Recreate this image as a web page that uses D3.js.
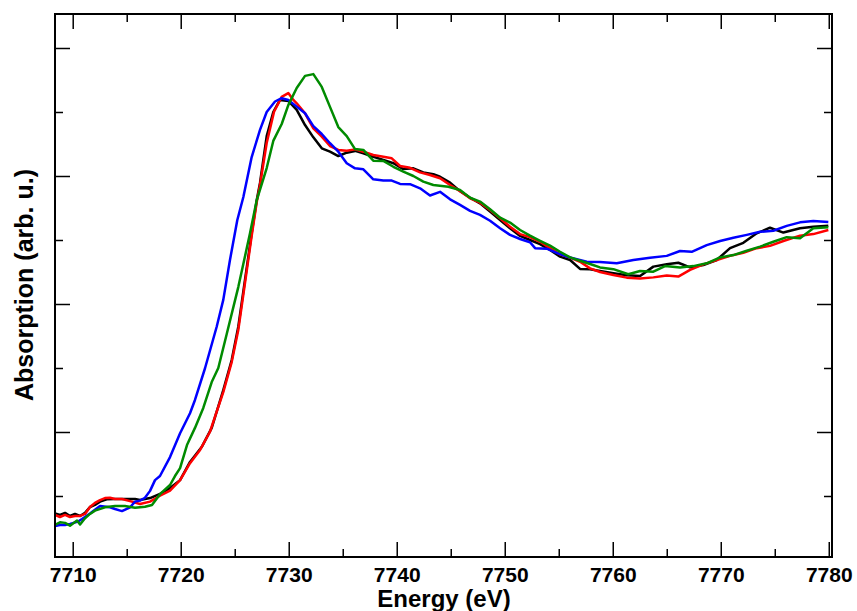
<!DOCTYPE html>
<html>
<head>
<meta charset="utf-8">
<script src="https://cdn.jsdelivr.net/npm/d3@7"></script>
<style>
  html, body { margin: 0; padding: 0; background: #fff; }
  svg { display: block; }
  text { font-family: "Liberation Sans", Arial, Helvetica, sans-serif; font-weight: bold; }
</style>
</head>
<body>
<svg id="chart" width="857" height="611"></svg>
<script>
// ---- Data ----
const xMajorTicks = [7710, 7720, 7730, 7740, 7750, 7760, 7770, 7780];
const xMinorTicks = [7715, 7725, 7735, 7745, 7755, 7765, 7775];
const yMajorTicks = [0, 0.5, 1.0, 1.5];
const yMinorTicks = [-0.25, 0.25, 0.75, 1.25];

const blackE = [7708.36,7708.82,7709.29,7709.75,7710.21,7710.68,7711.14,7711.60,7712.06,7712.53,7713.15,7713.92,7714.84,7715.77,7716.23,7717.16,7718.08,7719.01,7719.94,7720.86,7721.94,7722.87,7723.94,7724.72,7725.33,7725.95,7726.57,7727.04,7727.34,7727.96,7728.57,7729.19,7729.96,7730.74,7731.51,7732.28,7733.06,7733.82,7734.59,7735.37,7736.14,7736.91,7737.83,7738.76,7739.69,7740.61,7741.54,7742.46,7743.39,7744.01,7744.94,7745.86,7746.79,7747.71,7748.64,7749.57,7750.49,7751.42,7752.34,7753.27,7754.19,7755.12,7756.05,7756.97,7757.90,7758.82,7760.06,7761.30,7762.53,7763.76,7765.00,7766.07,7767.16,7768.39,7769.63,7770.86,7772.09,7773.33,7774.56,7775.80,7777.34,7778.57,7779.96];
const blackMu = [-0.318,-0.324,-0.316,-0.328,-0.320,-0.328,-0.316,-0.293,-0.285,-0.272,-0.263,-0.262,-0.262,-0.262,-0.266,-0.258,-0.242,-0.219,-0.188,-0.117,-0.059,0.016,0.164,0.281,0.411,0.594,0.776,0.906,0.973,1.156,1.250,1.297,1.293,1.258,1.199,1.151,1.108,1.095,1.078,1.091,1.098,1.089,1.075,1.063,1.050,1.027,1.030,1.014,1.007,0.997,0.974,0.941,0.915,0.893,0.861,0.828,0.796,0.766,0.750,0.734,0.711,0.685,0.672,0.637,0.636,0.629,0.620,0.612,0.609,0.646,0.655,0.661,0.643,0.652,0.672,0.718,0.739,0.776,0.798,0.779,0.796,0.802,0.806];

const redE = [7708.36,7708.82,7709.29,7709.75,7710.21,7710.68,7711.14,7711.60,7712.06,7712.53,7712.99,7713.45,7713.92,7714.56,7715.31,7716.23,7717.16,7718.08,7719.01,7719.94,7720.86,7721.79,7722.71,7723.94,7724.72,7725.33,7725.95,7726.57,7727.04,7727.34,7727.96,7728.64,7729.35,7729.96,7730.43,7730.74,7731.51,7732.28,7733.06,7733.82,7734.59,7735.37,7736.14,7736.91,7737.83,7738.76,7739.54,7740.31,7741.23,7742.16,7743.08,7744.01,7744.94,7745.86,7746.79,7747.71,7748.64,7749.57,7750.49,7751.42,7752.34,7753.27,7754.19,7755.12,7756.05,7756.97,7757.90,7758.82,7760.06,7761.30,7762.53,7763.76,7765.00,7766.07,7767.16,7768.39,7769.63,7770.86,7772.09,7773.33,7774.56,7775.80,7777.34,7778.57,7779.96];
const redMu = [-0.324,-0.332,-0.324,-0.332,-0.328,-0.328,-0.320,-0.293,-0.277,-0.266,-0.258,-0.257,-0.262,-0.262,-0.270,-0.281,-0.272,-0.249,-0.229,-0.188,-0.122,-0.070,0.001,0.156,0.273,0.398,0.582,0.766,0.898,0.965,1.129,1.251,1.309,1.324,1.297,1.284,1.245,1.186,1.154,1.117,1.102,1.099,1.104,1.095,1.082,1.075,1.069,1.039,1.032,1.014,1.004,0.991,0.965,0.941,0.913,0.896,0.867,0.835,0.802,0.773,0.761,0.743,0.718,0.694,0.681,0.665,0.639,0.625,0.613,0.603,0.600,0.604,0.611,0.607,0.633,0.655,0.672,0.688,0.700,0.718,0.727,0.746,0.767,0.773,0.789];

const greenE = [7708.36,7708.82,7709.29,7709.75,7710.40,7710.68,7711.14,7711.60,7712.06,7712.99,7713.92,7714.84,7715.77,7716.69,7717.34,7718.08,7719.01,7719.47,7719.94,7720.58,7721.32,7722.09,7722.87,7723.48,7724.26,7725.33,7726.42,7727.04,7727.96,7728.57,7729.35,7729.96,7730.74,7731.51,7732.28,7733.06,7733.82,7734.59,7735.37,7736.14,7736.91,7737.83,7738.76,7739.69,7740.61,7741.54,7742.46,7743.39,7744.78,7745.86,7746.79,7747.71,7748.64,7749.57,7750.49,7751.42,7752.34,7753.27,7754.19,7755.12,7756.05,7756.97,7757.90,7758.82,7760.06,7761.44,7762.53,7763.76,7764.84,7766.23,7767.46,7768.70,7769.94,7771.17,7772.41,7773.64,7774.87,7776.11,7777.34,7778.57,7779.96];
const greenMu = [-0.363,-0.353,-0.355,-0.366,-0.346,-0.361,-0.337,-0.320,-0.307,-0.294,-0.289,-0.289,-0.296,-0.292,-0.285,-0.243,-0.207,-0.172,-0.141,-0.051,0.016,0.094,0.195,0.250,0.383,0.566,0.777,0.906,1.031,1.137,1.203,1.277,1.344,1.391,1.398,1.348,1.270,1.191,1.156,1.105,1.102,1.060,1.059,1.036,1.017,1.000,0.978,0.965,0.958,0.945,0.915,0.900,0.870,0.837,0.818,0.789,0.767,0.747,0.728,0.704,0.682,0.669,0.656,0.643,0.636,0.616,0.629,0.626,0.648,0.643,0.648,0.659,0.682,0.691,0.708,0.724,0.743,0.761,0.757,0.796,0.800];

const blueE = [7708.36,7708.82,7709.29,7709.75,7710.49,7710.86,7711.60,7712.53,7713.45,7713.92,7714.56,7715.31,7715.77,7716.23,7716.69,7717.16,7717.62,7718.08,7719.01,7719.94,7720.86,7721.32,7722.25,7723.33,7723.94,7724.56,7725.24,7725.80,7726.57,7727.34,7727.96,7728.73,7729.35,7729.96,7730.74,7731.51,7732.28,7733.06,7733.82,7734.59,7735.37,7736.14,7736.91,7737.83,7738.76,7739.54,7740.31,7741.23,7742.16,7743.08,7744.01,7744.94,7745.86,7746.79,7747.71,7748.64,7749.57,7750.49,7751.42,7752.34,7752.81,7753.89,7754.81,7755.74,7756.67,7757.59,7758.82,7760.37,7761.91,7763.45,7765.00,7766.23,7767.31,7768.70,7769.94,7771.17,7772.41,7773.64,7774.87,7776.11,7777.34,7778.57,7779.96];
const blueMu = [-0.367,-0.363,-0.363,-0.359,-0.350,-0.340,-0.318,-0.289,-0.294,-0.301,-0.309,-0.294,-0.272,-0.268,-0.257,-0.230,-0.188,-0.172,-0.098,-0.005,0.073,0.125,0.249,0.411,0.516,0.672,0.828,0.918,1.074,1.180,1.250,1.291,1.304,1.297,1.271,1.245,1.195,1.164,1.128,1.095,1.050,1.030,1.026,0.987,0.982,0.982,0.969,0.968,0.952,0.924,0.938,0.909,0.887,0.864,0.848,0.825,0.796,0.770,0.754,0.741,0.718,0.716,0.700,0.685,0.675,0.665,0.664,0.659,0.672,0.681,0.688,0.707,0.704,0.730,0.746,0.759,0.770,0.782,0.786,0.805,0.819,0.824,0.820];

const seriesNames = ["black", "red", "blue", "green"];
const seriesColors = ["#000000", "#ff0000", "#0000ff", "#008b00"];
const seriesE = [blackE, redE, blueE, greenE];
const seriesMu = [blackMu, redMu, blueMu, greenMu];

// ---- Layout ----
const L = 55, R = 832, T = 14, B = 557;
const svg = d3.select("#chart");

const x = d3.scaleLinear().domain([7708.36, 7780.3]).range([L, R]);
const y = d3.scaleLinear().domain([-0.4883, 1.6328]).range([B, T]);

svg.append("defs").append("clipPath").attr("id", "plotclip")
  .append("rect").attr("x", L).attr("y", T).attr("width", R - L).attr("height", B - T);

// curves
const line = d3.line().x(d => x(d[0])).y(d => y(d[1]));
const gLines = svg.append("g").attr("clip-path", "url(#plotclip)");
seriesNames.forEach((name, i) => {
  const pts = seriesE[i].map((e, k) => [e, seriesMu[i][k]]);
  gLines.append("path")
    .attr("d", line(pts))
    .attr("fill", "none")
    .attr("stroke", seriesColors[i])
    .attr("stroke-width", 2.5)
    .attr("stroke-linejoin", "round");
});

// axes (ticks inward on all four sides)
function styleAxis(g) {
  g.select(".domain").remove();
  g.selectAll(".tick line").attr("stroke", "#000").attr("stroke-width", 1.5);
}
const tickFont = g => g.selectAll("text")
  .attr("font-size", 21).attr("font-weight", "bold")
  .attr("font-family", '"Liberation Sans", Arial, Helvetica, sans-serif')
  .attr("fill", "#000");

// bottom major with labels
svg.append("g").attr("transform", `translate(0,${B})`)
  .call(d3.axisBottom(x).tickValues(xMajorTicks).tickFormat(d3.format("d")).tickSizeInner(-15).tickSizeOuter(0).tickPadding(10))
  .call(styleAxis).call(tickFont);
svg.append("g").attr("transform", `translate(0,${B})`)
  .call(d3.axisBottom(x).tickValues(xMinorTicks).tickFormat("").tickSizeInner(-8).tickSizeOuter(0))
  .call(styleAxis);
// top
svg.append("g").attr("transform", `translate(0,${T})`)
  .call(d3.axisTop(x).tickValues(xMajorTicks).tickFormat("").tickSizeInner(-15).tickSizeOuter(0))
  .call(styleAxis);
svg.append("g").attr("transform", `translate(0,${T})`)
  .call(d3.axisTop(x).tickValues(xMinorTicks).tickFormat("").tickSizeInner(-8).tickSizeOuter(0))
  .call(styleAxis);
// left
svg.append("g").attr("transform", `translate(${L},0)`)
  .call(d3.axisLeft(y).tickValues(yMajorTicks).tickFormat("").tickSizeInner(-15).tickSizeOuter(0))
  .call(styleAxis);
svg.append("g").attr("transform", `translate(${L},0)`)
  .call(d3.axisLeft(y).tickValues(yMinorTicks).tickFormat("").tickSizeInner(-8).tickSizeOuter(0))
  .call(styleAxis);
// right
svg.append("g").attr("transform", `translate(${R},0)`)
  .call(d3.axisRight(y).tickValues(yMajorTicks).tickFormat("").tickSizeInner(-15).tickSizeOuter(0))
  .call(styleAxis);
svg.append("g").attr("transform", `translate(${R},0)`)
  .call(d3.axisRight(y).tickValues(yMinorTicks).tickFormat("").tickSizeInner(-8).tickSizeOuter(0))
  .call(styleAxis);

// frame
svg.append("rect").attr("x", L).attr("y", T).attr("width", R - L).attr("height", B - T)
  .attr("fill", "none").attr("stroke", "#000").attr("stroke-width", 2);

// axis titles
svg.append("text").attr("x", 444).attr("y", 607).attr("text-anchor", "middle")
  .attr("font-size", 24).attr("fill", "#000").text("Energy (eV)");
svg.append("text").attr("transform", "translate(33,285) rotate(-90)").attr("text-anchor", "middle")
  .attr("font-size", 25).attr("fill", "#000").text("Absorption (arb. u.)");
</script>
</body>
</html>
